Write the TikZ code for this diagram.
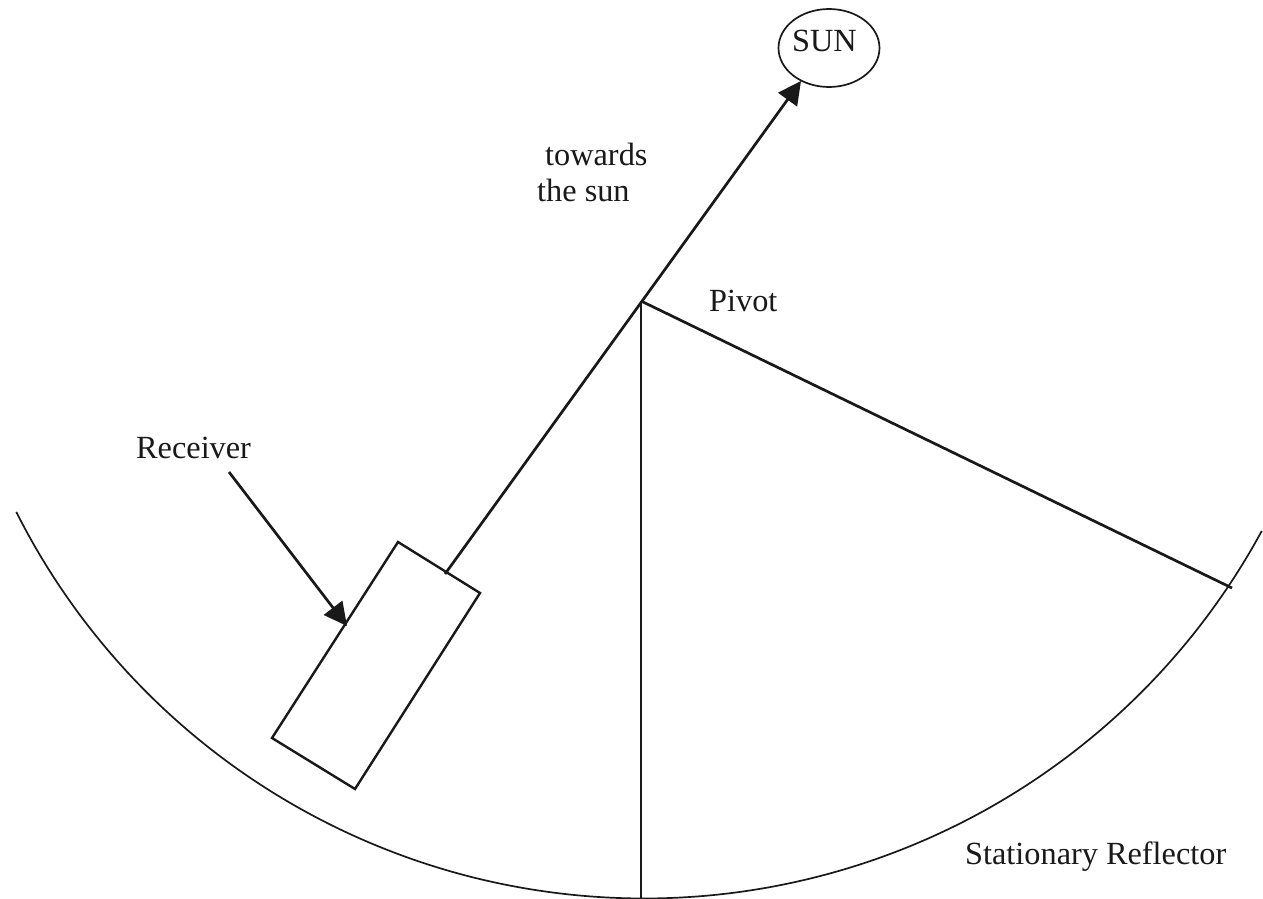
\documentclass[tikz,border=0pt]{standalone}
\usepackage{fontspec}
\setmainfont{Liberation Serif}
\usetikzlibrary{arrows.meta,shapes.geometric}
\definecolor{ink}{gray}{0.1}
\tikzset{lab/.style={inner sep=0pt,anchor=base west,font=\fontsize{32.3}{36}\selectfont,text=ink,align=left},
ln/.style={line width=2.7pt,draw=ink},
thinline/.style={line width=1.7pt,draw=ink},
arr/.style={ln,-{Triangle[length=23pt,width=23pt]}}}
\begin{document}
\begin{tikzpicture}[x=1pt,y=-1pt]
\useasboundingbox (0,0) rectangle (1263,899);
\fill[white] (0,0) rectangle (1263,899);
\coordinate (piv) at (641,301);
\coordinate (bot) at (641,899);
\coordinate (rim) at (1232,588);
\coordinate (rt) at (445,574);
\coordinate (ra) at (229,472);
\coordinate (rb) at (347,626);
\node[thinline,draw,ellipse,minimum width=101pt,minimum height=78pt,inner sep=0pt] (sun) at (829,48) {};
\coordinate (sp) at (801,81);
\draw[thinline] plot[domain=28.5:153.25,samples=120,smooth] ({644+703*cos(\x)},{195.5+703*sin(\x)});
\draw[ln,line width=2.2pt] (piv) -- (bot);
\draw[ln] (piv) -- (rim);
\draw[arr] (rt) -- (sp);
\draw[ln,line width=2.4pt] (398,542) -- (480,593) -- (355,789) -- (272,738) -- cycle;
\draw[arr] (ra) -- (rb);
\node[lab] (sunlabel) at (792,52) {SUN};
\node[lab] (t1) at (545,165) {towards};
\node[lab] (t2) at (537,201) {the sun};
\node[lab] (p) at (709,311) {Pivot};
\node[lab] (r2) at (136,458) {Receiver};
\node[lab] (s) at (965,864) {Stationary Reflector};
\end{tikzpicture}
\end{document}
